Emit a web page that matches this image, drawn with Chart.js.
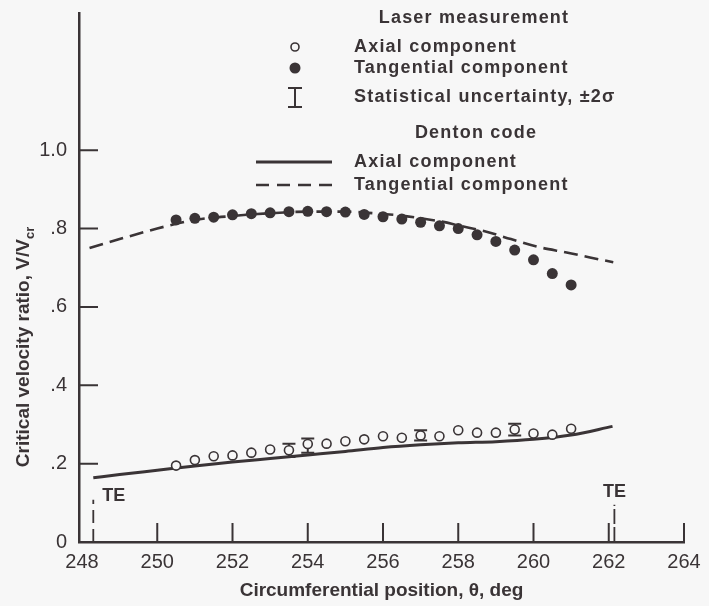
<!DOCTYPE html>
<html>
<head>
<meta charset="utf-8">
<script src="https://cdn.jsdelivr.net/npm/chart.js@4.4.1/dist/chart.umd.min.js"></script>
<style>
  html, body { margin: 0; padding: 0; background: #f7f7f7; }
  canvas { display: block; }
</style>
</head>
<body>
<canvas id="myChart" width="709" height="606"></canvas>
<script>
const ink = '#3a3436';
const paper = '#f7f7f7';
const fam = '"Liberation Sans", Arial, Helvetica, sans-serif';

// laser measurement, circumferential position in deg
const measTheta = [250.5, 251, 251.5, 252, 252.5, 253, 253.5, 254, 254.5, 255, 255.5, 256, 256.5, 257, 257.5, 258, 258.5, 259, 259.5, 260, 260.5, 261];
const axialMeas = [.195, .209, .219, .221, .228, .236, .234, .250, .251, .257, .262, .270, .266, .272, .270, .285, .279, .279, .287, .277, .274, .289];
const tangMeas = [.822, .826, .829, .835, .838, .840, .843, .844, .843, .842, .836, .830, .824, .816, .807, .800, .784, .767, .745, .720, .685, .656];

// statistical uncertainty, +-2 sigma
const errTheta = [253.5, 254, 257, 259.5];
const errLow = [.217, .228, .259, .272];
const errHigh = [.251, .264, .285, .302];

// Denton code
const dentonAxTheta = [248.3, 249, 250, 251, 252, 253, 254, 255, 256, 257, 258, 259, 260, 261, 262.1];
const dentonAx = [.164, .172, .183, .194, .204, .213, .222, .231, .241, .248, .253, .256, .262, .273, .295];
const dentonTgTheta = [248.2, 249, 250, 250.5, 251, 252, 253, 254, 255, 256, 256.5, 257, 257.6, 258, 258.75, 259.4, 260.17, 260.88, 261.5, 262.12];
const dentonTg = [.750, .773, .800, .812, .822, .832, .839, .843, .843, .837, .833, .826, .817, .808, .792, .773, .752, .739, .726, .714];

const xTicks = [248, 250, 252, 254, 256, 258, 260, 262, 264];
const yTicks = [0, .2, .4, .6, .8, 1.0];
const yTickLabels = ['0', '.2', '.4', '.6', '.8', '1.0'];

// trailing edge marks
const teTheta = [248.3, 262.15];
const teTop = [.108, .095];
const teLabelY = [.117, .127];

function pairs(xs, ys) {
  return xs.map((v, i) => ({ x: v, y: ys[i] }));
}

const errorBars = {
  id: 'errorBars',
  beforeDatasetsDraw(chart) {
    const { ctx, scales: { x, y } } = chart;
    ctx.save();
    ctx.strokeStyle = ink;
    ctx.lineWidth = 2;
    errTheta.forEach((t, i) => {
      const px = x.getPixelForValue(t);
      const y1 = y.getPixelForValue(errLow[i]);
      const y2 = y.getPixelForValue(errHigh[i]);
      ctx.beginPath();
      ctx.moveTo(px, y1); ctx.lineTo(px, y2);
      ctx.moveTo(px - 6.5, y1); ctx.lineTo(px + 6.5, y1);
      ctx.moveTo(px - 6.5, y2); ctx.lineTo(px + 6.5, y2);
      ctx.stroke();
    });
    ctx.restore();
  }
};

const innerTicks = {
  id: 'innerTicks',
  afterDraw(chart) {
    const { ctx, chartArea, scales: { x, y } } = chart;
    ctx.save();
    ctx.strokeStyle = ink;
    ctx.lineWidth = 2;
    ctx.beginPath();
    xTicks.slice(1).forEach(v => {
      const px = x.getPixelForValue(v);
      ctx.moveTo(px, chartArea.bottom);
      ctx.lineTo(px, chartArea.bottom - 19);
    });
    yTicks.slice(1).forEach(v => {
      const py = y.getPixelForValue(v);
      ctx.moveTo(chartArea.left, py);
      ctx.lineTo(chartArea.left + 19, py);
    });
    ctx.stroke();

    // TE marks
    ctx.lineWidth = 1.8;
    ctx.fillStyle = ink;
    ctx.font = 'bold 18px ' + fam;
    ctx.textBaseline = 'middle';
    teTheta.forEach((t, i) => {
      const px = x.getPixelForValue(t);
      ctx.setLineDash(i === 0 ? [13, 6] : [15, 3]);
      ctx.beginPath();
      ctx.moveTo(px, y.getPixelForValue(0));
      ctx.lineTo(px, y.getPixelForValue(teTop[i]));
      ctx.stroke();
      ctx.textAlign = i === 0 ? 'left' : 'center';
      ctx.fillText('TE', i === 0 ? px + 9 : px, y.getPixelForValue(teLabelY[i]));
    });
    ctx.setLineDash([]);

    // y axis title with subscript
    ctx.translate(22, 347);
    ctx.rotate(-Math.PI / 2);
    const main = 'Critical velocity ratio, V/V';
    ctx.font = 'bold 13px ' + fam;
    const subW = ctx.measureText('cr').width;
    ctx.font = 'bold 19px ' + fam;
    const mainW = ctx.measureText(main).width;
    const start = -(mainW + subW) / 2;
    ctx.textAlign = 'left';
    ctx.textBaseline = 'alphabetic';
    ctx.fillText(main, start, 7);
    ctx.font = 'bold 13px ' + fam;
    ctx.fillText('cr', start + mainW, 12);
    ctx.restore();
  }
};

const keyBox = {
  id: 'keyBox',
  afterDraw(chart) {
    const { ctx } = chart;
    const ds = chart.data.datasets;
    ctx.save();
    ctx.fillStyle = ink;
    ctx.strokeStyle = ink;
    ctx.font = 'bold 18px ' + fam;
    ctx.letterSpacing = '1.2px';
    ctx.textBaseline = 'middle';
    ctx.textAlign = 'center';
    ctx.fillText('Laser measurement', 474, 18);
    ctx.fillText('Denton code', 476, 133);
    ctx.textAlign = 'left';
    ctx.fillText(ds[0].label, 354, 47);
    ctx.fillText(ds[1].label, 354, 68);
    ctx.fillText('Statistical uncertainty, \u00b12\u03c3', 354, 97);
    ctx.fillText(ds[2].label, 354, 162);
    ctx.fillText(ds[3].label, 354, 185);

    // symbols
    ctx.lineWidth = 1.6;
    ctx.beginPath();
    ctx.arc(295, 47, 4, 0, Math.PI * 2);
    ctx.stroke();
    ctx.beginPath();
    ctx.arc(295, 68, 5.5, 0, Math.PI * 2);
    ctx.fill();
    ctx.lineWidth = 2;
    ctx.beginPath();
    ctx.moveTo(295, 88); ctx.lineTo(295, 107);
    ctx.moveTo(288, 88); ctx.lineTo(302, 88);
    ctx.moveTo(288, 107); ctx.lineTo(302, 107);
    ctx.stroke();
    ctx.lineWidth = 3;
    ctx.beginPath();
    ctx.moveTo(256, 162); ctx.lineTo(332, 162);
    ctx.stroke();
    ctx.lineWidth = 2.6;
    ctx.setLineDash([13, 8]);
    ctx.beginPath();
    ctx.moveTo(256, 185); ctx.lineTo(332, 185);
    ctx.stroke();
    ctx.restore();
  }
};

const tickFont = { family: fam, size: 20 };
const titleFont = { family: fam, size: 19, weight: 'bold' };

const config = {
  type: 'scatter',
  data: {
    datasets: [{
      label: 'Axial component',
      data: pairs(measTheta, axialMeas),
      pointRadius: 4.5,
      pointBorderWidth: 1.6,
      pointBorderColor: ink,
      pointBackgroundColor: paper
    }, {
      label: 'Tangential component',
      data: pairs(measTheta, tangMeas),
      pointRadius: 5.5,
      pointBorderWidth: 0,
      pointBackgroundColor: ink
    }, {
      label: 'Axial component',
      data: pairs(dentonAxTheta, dentonAx),
      showLine: true,
      pointRadius: 0,
      borderColor: ink,
      borderWidth: 3,
      cubicInterpolationMode: 'monotone'
    }, {
      label: 'Tangential component',
      data: pairs(dentonTgTheta, dentonTg),
      showLine: true,
      pointRadius: 0,
      borderColor: ink,
      borderWidth: 2.6,
      borderDash: [14, 7],
      cubicInterpolationMode: 'monotone'
    }]
  },
  options: {
    responsive: false,
    animation: false,
    devicePixelRatio: 1,
    layout: { padding: { top: 13, right: 25, left: 0, bottom: 0 } },
    plugins: { legend: { display: false }, tooltip: { enabled: false } },
    scales: {
      x: {
        type: 'linear',
        min: 247.92,
        max: 264,
        afterBuildTicks: s => { s.ticks = xTicks.map(v => ({ value: v })); },
        afterFit: s => { s.height = 64; },
        grid: { display: false, drawTicks: false },
        border: { display: true, color: ink, width: 2.5 },
        ticks: { font: tickFont, color: ink, padding: 8, maxRotation: 0, autoSkip: false },
        title: { display: true, text: 'Circumferential position, \u03b8, deg', font: titleFont, color: ink, padding: { top: 4, bottom: 4 } }
      },
      y: {
        type: 'linear',
        min: 0,
        max: 1.35,
        afterBuildTicks: s => { s.ticks = yTicks.map(v => ({ value: v })); },
        afterFit: s => { s.width = 79; s.paddingTop = 0; s.paddingBottom = 0; },
        grid: { display: false, drawTicks: false },
        border: { display: true, color: ink, width: 2.5 },
        ticks: { font: tickFont, color: ink, padding: 12, callback: (v, i) => yTickLabels[i] }
      }
    }
  },
  plugins: [errorBars, innerTicks, keyBox]
};

const myChart = new Chart(document.getElementById('myChart'), config);
</script>
</body>
</html>
